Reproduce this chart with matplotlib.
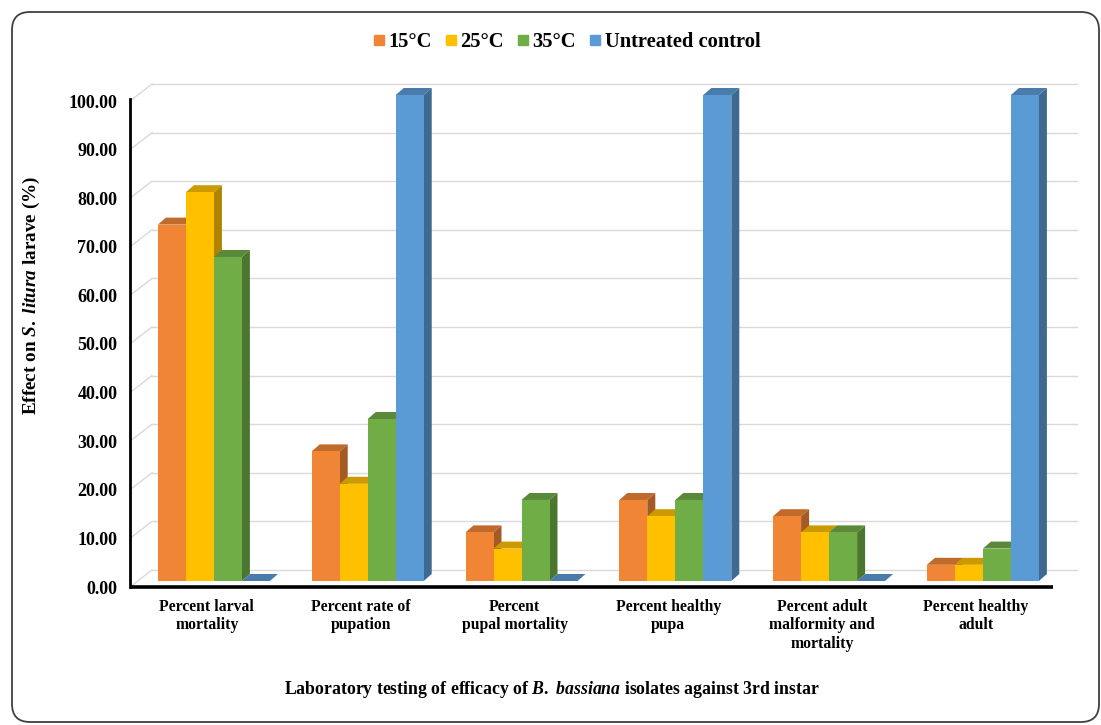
import matplotlib
matplotlib.use("Agg")
import matplotlib.pyplot as plt
from matplotlib.patches import Polygon, FancyBboxPatch
from matplotlib.lines import Line2D
from matplotlib import colors as mcolors

# ---- data ----
categories = ["Percent larval\nmortality", "Percent rate of\npupation", "Percent\npupal mortality",
              "Percent healthy\npupa", "Percent adult\nmalformity and\nmortality", "Percent healthy\nadult"]
series_names = ["15°C", "25°C", "35°C", "Untreated control"]
t15 = [73.33, 26.67, 10.00, 16.67, 13.33, 3.33]
t25 = [80.00, 20.00, 6.67, 13.33, 10.00, 3.33]
t35 = [66.67, 33.33, 16.67, 16.67, 10.00, 6.67]
control = [0.00, 100.00, 0.00, 100.00, 0.00, 100.00]
yticks = [0, 10, 20, 30, 40, 50, 60, 70, 80, 90, 100]
series_colors = ["#F08536", "#FFC000", "#70AD47", "#5B9BD5"]

plt.rcParams['font.family'] = ['Liberation Serif', 'DejaVu Serif']
plt.rcParams['font.weight'] = 'bold'
plt.rcParams['mathtext.fontset'] = 'custom'
plt.rcParams['mathtext.rm'] = 'Liberation Serif:bold'
plt.rcParams['mathtext.it'] = 'Liberation Serif:bold:italic'
plt.rcParams['mathtext.bf'] = 'Liberation Serif:bold'

W, H = 1101, 725
fig = plt.figure(figsize=(W / 100, H / 100), dpi=100)

# geometry (pixels)
px_x = 153.8
px_y = 4.86
xlo, xhi = -0.5, 5.66
ylo, yhi = 0, 105
ax_left_px, ax_base_px = 130, 587
ax_w_px = (xhi - xlo) * px_x
ax_h_px = (yhi - ylo) * px_y
ax = fig.add_axes([ax_left_px / W, (H - ax_base_px) / H, ax_w_px / W, ax_h_px / H])
ax.set_xlim(xlo, xhi)
ax.set_ylim(ylo, yhi)
ax.patch.set_alpha(0)

Dx, Dy = 22 / px_x, 17 / px_y      # full depth of floor/back wall
bx, by = 7 / px_x, 6 / px_y        # front offset of bars
dx, dy = 8 / px_x, 7 / px_y        # bar depth
bw = 28 / px_x                     # bar width
x_back_end = (1077 - ax_left_px) / px_x + xlo

# back wall gridlines and left diagonals
for v in yticks:
    ax.plot([xlo + Dx, x_back_end], [v + Dy, v + Dy], color="#d9d9d9", lw=1, zorder=1, clip_on=False)
    ax.plot([xlo, xlo + Dx], [v, v + Dy], color="#d9d9d9", lw=1, zorder=1, clip_on=False)

def shade(c, f):
    r, g, b = mcolors.to_rgb(c)
    return (r * f, g * f, b * f)

all_series = [t15, t25, t35, control]
n = len(all_series)
z = 3
for i in range(len(categories)):
    for k, vals in enumerate(all_series):
        v = vals[i]
        col = series_colors[k]
        x0 = i + bx + (k - n / 2) * bw
        x1 = x0 + bw
        b0 = by
        top = b0 + v
        side = Polygon([(x1, b0), (x1 + dx, b0 + dy), (x1 + dx, top + dy), (x1, top)],
                       closed=True, facecolor=shade(col, 0.68), edgecolor='none', zorder=z)
        ax.add_patch(side)
        topf = Polygon([(x0, top), (x0 + dx, top + dy), (x1 + dx, top + dy), (x1, top)],
                       closed=True, facecolor=shade(col, 0.8), edgecolor='none', zorder=z + 0.1)
        ax.add_patch(topf)
        ax.bar(x0, v, width=bw, bottom=b0, align='edge', color=col, edgecolor='none', zorder=z + 0.2)
        z += 1

# axes lines
for s in ["top", "right", "bottom"]:
    ax.spines[s].set_visible(False)
ax.spines["left"].set_bounds(0, 100.5)
ax.spines["left"].set_linewidth(2)
ax.spines["left"].set_color("black")
ax.plot([xlo, 5.5], [0, 0], color="black", lw=2.6, solid_capstyle='butt', zorder=100, clip_on=False)

ax.set_yticks(yticks)
ax.set_yticklabels([f"{v:.2f}" for v in yticks], fontsize=13, fontweight='bold')
ax.tick_params(axis='y', length=0, pad=9)
ax.set_xticks([])

for i, lab in enumerate(categories):
    ax.text(i, -12 / ax_h_px, lab, transform=ax.get_xaxis_transform(),
            ha='center', va='top', fontsize=11.3, fontweight='bold', linespacing=1.2)

ax.set_ylabel(r"Effect on $\mathit{S.\ litura}$ larave (%)", fontsize=13.8, fontweight='bold')
ax.yaxis.set_label_coords((42 - ax_left_px) / ax_w_px, (587 - 295) / ax_h_px)

fig.text(552 / W, 1 - 690 / H,
         r"Laboratory testing of efficacy of $\mathit{B.\ bassiana}$ isolates against 3rd instar",
         ha='center', va='center', fontsize=12.8, fontweight='bold')

handles = [Line2D([], [], marker='s', linestyle='none', markersize=7, color=c) for c in series_colors]
fig.legend(handles, series_names, loc='center', bbox_to_anchor=(567 / W, 1 - 42 / H), ncol=4,
           frameon=False, prop={'family': 'Liberation Serif', 'weight': 'bold', 'size': 14.8},
           handlelength=0.5, handletextpad=0.2, columnspacing=0.7)

frame = FancyBboxPatch((12, 3), 1087, 710, boxstyle="round,pad=0,rounding_size=18",
                       transform=None, facecolor='none', edgecolor='#404040', lw=1.3)
fig.add_artist(frame)

fig.savefig("out.png", dpi=100)
